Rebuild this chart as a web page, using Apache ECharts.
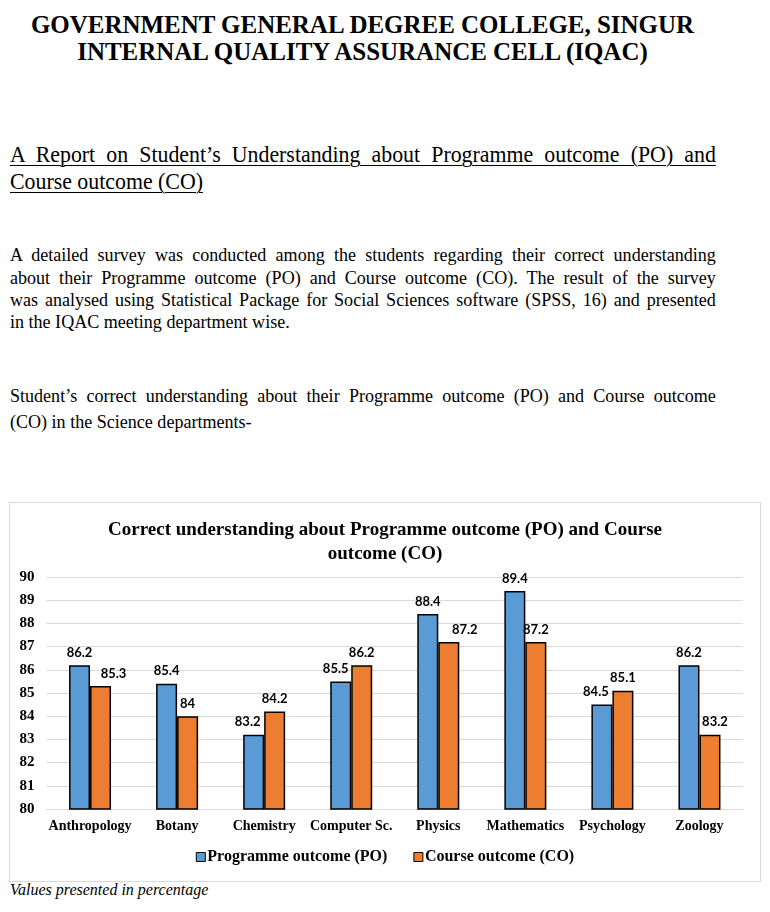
<!DOCTYPE html>
<html>
<head>
<meta charset="utf-8">
<script src="https://cdn.jsdelivr.net/npm/echarts@6/dist/echarts.min.js"></script>
<style>
  html, body { margin: 0; padding: 0; background: #fff; }
  body { width: 770px; height: 912px; position: relative; overflow: hidden; font-family: "Liberation Serif", "Times New Roman", serif; color: #000; }
  .t { position: absolute; white-space: nowrap; }
  .h1 { font-weight: bold; font-size: 26px; line-height: 28px; left: 0; width: 725px; text-align: center; transform: scaleX(0.96); transform-origin: 362px 0; }
  .hd { font-size: 23px; line-height: 26px; left: 10px; text-decoration: underline; text-decoration-thickness: 1px; text-underline-offset: 3px; transform: scaleX(0.95); transform-origin: 0 0; }
  .hd.just { width: 743px; }
  .p { font-size: 19px; line-height: 22px; left: 10px; transform: scaleX(0.95); transform-origin: 0 0; }
  .p.just { width: 743px; }
  .just { text-align: justify; text-align-last: justify; }
  #box { position: absolute; left: 9px; top: 502px; width: 750px; height: 378px; border: 1px solid #D9D9D9; }
  #chart { width: 750px; height: 378px; }
  .fn { font-style: italic; font-size: 16px; line-height: 18px; left: 10px; }
</style>
</head>
<body>
<div class="t h1" style="top:11px;">GOVERNMENT GENERAL DEGREE COLLEGE, SINGUR</div>
<div class="t h1" style="top:38px;">INTERNAL QUALITY ASSURANCE CELL (IQAC)</div>

<div class="t hd just" style="top:142px;">A Report on Student’s Understanding about Programme outcome (PO) and</div>
<div class="t hd" style="top:169px;">Course outcome (CO)</div>

<div class="t p just" style="top:244px;">A detailed survey was conducted among the students regarding their correct understanding</div>
<div class="t p just" style="top:267px;">about their Programme outcome (PO) and Course outcome (CO). The result of the survey</div>
<div class="t p just" style="top:289px;">was analysed using Statistical Package for Social Sciences software (SPSS, 16) and presented</div>
<div class="t p" style="top:311px;">in the IQAC meeting department wise.</div>

<div class="t p just" style="top:385px;">Student’s correct understanding about their Programme outcome (PO) and Course outcome</div>
<div class="t p" style="top:411px;">(CO) in the Science departments-</div>

<div id="box"><div id="chart"></div></div>
<div class="t fn" style="top:881px;">Values presented in percentage</div>

<script>
const categories = ['Anthropology', 'Botany', 'Chemistry', 'Computer Sc.', 'Physics', 'Mathematics', 'Psychology', 'Zoology'];
const poValues = [86.2, 85.4, 83.2, 85.5, 88.4, 89.4, 84.5, 86.2];
const coValues = [85.3, 84.0, 84.2, 86.2, 87.2, 87.2, 85.1, 83.2];
const seriesNames = ['Programme outcome (PO)', 'Course outcome (CO)'];
const chartTitle = 'Correct understanding about Programme outcome (PO) and Course\noutcome (CO)';

// label nudges (style only), mimicking the original label placement
const poNudge = [0, 0, -6, -5, 0, 0, -6, 0];
const coNudge = [13, 0, 0, 0, 16, 0, 0, 5];

const serif = '"Liberation Serif", "Times New Roman", serif';
const chart = echarts.init(document.getElementById('chart'), null, { renderer: 'canvas' });

function withNudge(vals, nudge) {
  return vals.map((v, i) => ({ value: v, label: { offset: [nudge[i], 0] } }));
}

const labelStyle = {
  show: true, position: 'top', distance: 6,
  fontFamily: 'Lato, "Open Sans", sans-serif', fontWeight: 'bold', fontSize: 13, color: '#000',
  formatter: p => String(p.value)
};

chart.setOption({
  animation: false,
  title: {
    text: chartTitle, left: 'center', top: 10,
    textStyle: { fontFamily: serif, fontWeight: 'bold', fontSize: 19, lineHeight: 24, color: '#000' }
  },
  legend: {
    bottom: 11, left: 'center', itemWidth: 9, itemHeight: 9, itemGap: 26,
    icon: 'rect',
    itemStyle: { borderColor: '#000', borderWidth: 1 },
    textStyle: { fontFamily: serif, fontWeight: 'bold', fontSize: 16, color: '#000', padding: [0, 0, 0, -3] },
    data: seriesNames
  },
  grid: { left: 36.5, right: 17, top: 74, bottom: 72, containLabel: false },
  xAxis: {
    type: 'category', data: categories,
    axisTick: { show: false },
    axisLine: { lineStyle: { color: '#D9D9D9', width: 1 } },
    axisLabel: { fontFamily: serif, fontWeight: 'bold', fontSize: 14, color: '#000', margin: 10, interval: 0 }
  },
  yAxis: {
    type: 'value', min: 80, max: 90, interval: 1,
    axisLine: { show: false }, axisTick: { show: false },
    splitLine: { lineStyle: { color: '#D9D9D9', width: 1 } },
    axisLabel: { fontFamily: serif, fontWeight: 'bold', fontSize: 15, color: '#000', margin: 12 }
  },
  series: [
    {
      name: seriesNames[0], type: 'bar', barWidth: 21, barGap: '0%',
      itemStyle: { color: '#5B9BD5', borderColor: '#000', borderWidth: 1.5 },
      label: labelStyle,
      data: withNudge(poValues, poNudge)
    },
    {
      name: seriesNames[1], type: 'bar', barWidth: 21, barGap: '0%',
      itemStyle: { color: '#ED7D31', borderColor: '#000', borderWidth: 1.5 },
      label: labelStyle,
      data: withNudge(coValues, coNudge)
    }
  ]
});
</script>
</body>
</html>
